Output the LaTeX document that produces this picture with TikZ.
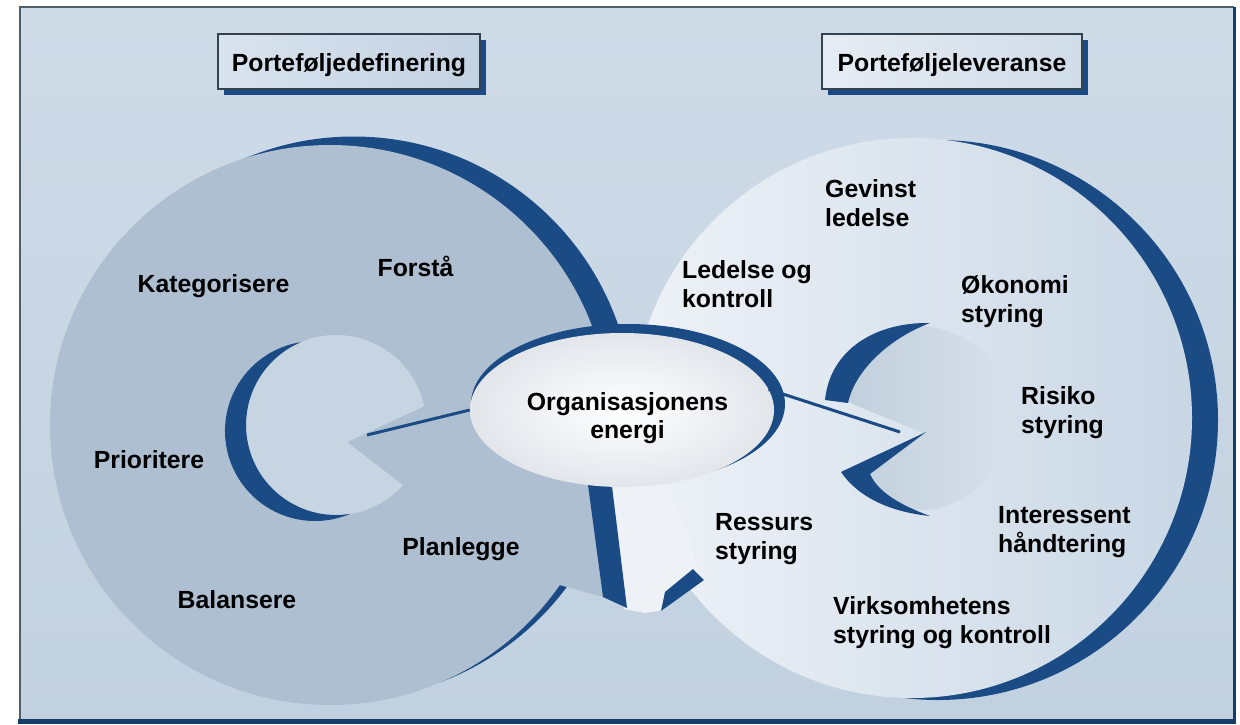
\documentclass[tikz,border=0pt]{standalone}
\usepackage{fontspec}
\setmainfont{Liberation Sans}
\usetikzlibrary{shapes.geometric,shadows}
\definecolor{navy}{HTML}{1B4B84}
\definecolor{bgtop}{HTML}{CFDBE7}
\definecolor{bgbot}{HTML}{C2D1E0}
\definecolor{ldisc}{HTML}{AEBFD2}
\definecolor{linner}{HTML}{C7D5E3}
\definecolor{rleft}{HTML}{EEF2F7}
\definecolor{rright}{HTML}{C9D7E5}
\definecolor{rinL}{HTML}{BFCDDB}
\definecolor{rinR}{HTML}{D9E2EB}
\definecolor{framegray}{HTML}{4F5E6B}
\definecolor{boxline}{HTML}{34414F}
\definecolor{hbL}{HTML}{D9E3EE}
\definecolor{hbR}{HTML}{C3D2E2}
\definecolor{hcL}{HTML}{E6ECF3}
\definecolor{hcR}{HTML}{D0DCE8}
\definecolor{ellout}{HTML}{E2E6EB}
\begin{document}
\begin{tikzpicture}[x=1pt,y=-1pt,
  lbl/.style={inner sep=0pt, font=\bfseries\fontsize{24.8}{29}\selectfont, text=black},
  lbll/.style={lbl, align=left, anchor=base west},
  conn/.style={draw=navy, line width=3pt},
  hdr/.style={draw=boxline, line width=1.2pt, inner sep=0pt,
     font=\bfseries\fontsize{24.8}{29}\selectfont,
     text height=37pt, text depth=18pt,
     drop shadow={fill=navy, opacity=1, shadow xshift=6pt, shadow yshift=-6pt}}
]
\useasboundingbox (0,0) rectangle (1240,724);
\fill[white] (0,0) rectangle (1240,724);
% frame and background
\shade[top color=bgtop, bottom color=bgbot] (20,7) rectangle (1234,719);
\draw[framegray, line width=1.5pt] (20,719) -- (20,7) -- (1234,7);
\draw[navy!80!black, line width=3pt] (1234,7) -- (1234,720);
\draw[navy!80!black, line width=5pt] (18,721) -- (1236,721);

% right big disc with shadow
\fill[navy] (938,420) circle[radius=280];
\shade[left color=rleft, right color=rright] (912,418) circle[radius=280];

% left big disc shadow (upper part)
\begin{scope}
  \clip (0,0) rectangle (1240,480);
  \fill[navy] (353.5,416.5) circle[radius=280];
\end{scope}
% thin shadow at lower right of left disc
\begin{scope}
  \clip (330,425) -- +(30:420) -- +(67:420) -- cycle;
  \fill[navy] (342,420) circle[radius=280];
\end{scope}
% right arrow head (light)
\fill[rleft] (606,470) -- (624,609) -- (645,613) -- (663,610) -- (700,578) -- (690,540) -- (660,470) -- cycle;
\fill[navy] (661,611) -- (665,592) -- (693,569) -- (704,580) -- cycle;
% left big disc
\fill[ldisc] (330,425) circle[radius=280];
\fill[ldisc] (575,430) -- (586,470) -- (603,597) -- (556,584) -- (520,560) -- cycle;
\fill[navy] (586,470) -- (610,470) -- (627,608) -- (603,597) -- cycle;

% left inner disc
\fill[linner] (347,442) -- (402.9,485.2) arc[start angle=42, end angle=348, radius=90] -- cycle;
\fill[navy] (301,342.1) arc[start angle=261.06, end angle=67.1, radius=90]
   arc[start angle=81.06, end angle=247.1, radius=90] -- cycle;

% right inner disc
\shade[left color=rinL, right color=rinR] (925,434) -- (829.1,394.2) arc[start angle=-165, end angle=145, radius=92] -- cycle;
\fill[navy] (930,323) .. controls (875,322) and (830,350) .. (825,400) -- (848,403) .. controls (855,370) and (890,338) .. (930,323) -- cycle;
\fill[navy] (926,432) -- (841,472) .. controls (858,497) and (890,512) .. (930,516) .. controls (900,505) and (878,492) .. (870,474) -- cycle;

% central ellipse
\fill[navy] (628,404) ellipse[x radius=157, y radius=80];
\node[ellipse, minimum width=304pt, minimum height=154pt, inner sep=0pt,
      inner color=white, outer color=ellout] (energy) at (622,410) {};
\node[lbl, align=center, anchor=base, font=\bfseries\fontsize{24.8}{28}\selectfont] (energytxt) at (627.5,438) {Organisasjonens\\energi};

% connectors
\coordinate (lnotch) at (367,435);
\coordinate (rnotch) at (900,432);
\draw[conn] (energy.west) -- (lnotch);
\draw[conn] (energy.8) -- (rnotch);

% headers
\node[hdr, minimum width=262pt, left color=hbL, right color=hbR] (h1) at (349,61.5) {Porteføljedefinering};
\node[hdr, minimum width=260pt, left color=hcL, right color=hcR] (h2) at (952,61.5) {Porteføljeleveranse};

% left labels
\node[lbl, anchor=base] (kat) at (213.5,292) {Kategorisere};
\node[lbl, anchor=base] (forsta) at (415.5,276) {Forstå};
\node[lbl, anchor=base] (prio) at (149,468) {Prioritere};
\node[lbl, anchor=base] (plan) at (461,555) {Planlegge};
\node[lbl, anchor=base] (bal) at (237,608) {Balansere};

% right labels (base = last line)
\node[lbll] (gev) at (825,226) {Gevinst\\ledelse};
\node[lbll] (led) at (682,307) {Ledelse og\\kontroll};
\node[lbll] (oko) at (961,322) {Økonomi\\styring};
\node[lbll] (ris) at (1021,433) {Risiko\\styring};
\node[lbll] (int) at (998,552.5) {Interessent\\håndtering};
\node[lbll] (res) at (715,559.5) {Ressurs\\styring};
\node[lbll] (virk) at (833,643) {Virksomhetens\\styring og kontroll};
\end{tikzpicture}
\end{document}
